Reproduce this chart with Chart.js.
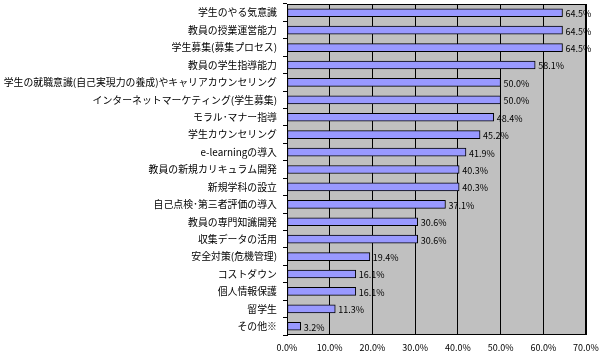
<!DOCTYPE html>
<html>
<head>
    <meta charset="utf-8">
    <title>chart</title>
    <script src="https://cdn.jsdelivr.net/npm/chart.js@4.4.1/dist/chart.umd.min.js"></script>
    <style>
        html, body { margin: 0; padding: 0; background: #fff; }
        #c { display: block; }
    </style>
</head>
<body>
<canvas id="c" width="604" height="361"></canvas>

<script>
    // データ
    let categories = [
        '学生のやる気意識', '教員の授業運営能力', '学生募集(募集プロセス)', '教員の学生指導能力',
        '学生の就職意識(自己実現力の養成)やキャリアカウンセリング', 'インターネットマーケティング(学生募集)',
        'モラル･マナー指導', '学生カウンセリング', 'e-learningの導入', '教員の新規カリキュラム開発',
        '新規学科の設立', '自己点検･第三者評価の導入', '教員の専門知識開発', '収集データの活用',
        '安全対策(危機管理)', 'コストダウン', '個人情報保護', '留学生', 'その他※'
    ];
    let values = [64.5, 64.5, 64.5, 58.1, 50.0, 50.0, 48.4, 45.2, 41.9, 40.3,
        40.3, 37.1, 30.6, 30.6, 19.4, 16.1, 16.1, 11.3, 3.2];
    let xTicks = [0, 10, 20, 30, 40, 50, 60, 70];

    let font = "'Noto Sans CJK JP', sans-serif";

    // 灰色の背景と枠
    let plotBg = {
        id: 'plotBg',
        beforeDraw: function (chart) {
            let a = chart.chartArea, ctx = chart.ctx;
            ctx.save();
            ctx.fillStyle = '#c0c0c0';
            ctx.fillRect(a.left, a.top, a.right - a.left, a.bottom - a.top);
            ctx.restore();
        },
        afterDraw: function (chart) {
            let a = chart.chartArea, ctx = chart.ctx;
            ctx.save();
            ctx.strokeStyle = '#000';
            ctx.lineWidth = 1;
            ctx.strokeRect(a.left + 0.5, a.top + 0.5, a.right - a.left - 1, a.bottom - a.top - 1);
            ctx.restore();
        }
    };

    // 値ラベル
    let valueLabels = {
        id: 'valueLabels',
        afterDatasetsDraw: function (chart) {
            let ctx = chart.ctx;
            let meta = chart.getDatasetMeta(0);
            ctx.save();
            ctx.fillStyle = '#000';
            ctx.font = '9px ' + font;
            ctx.textBaseline = 'middle';
            ctx.textAlign = 'left';
            meta.data.forEach(function (bar, i) {
                ctx.fillText(values[i].toFixed(1) + '%', bar.x + 3, bar.y + 1);
            });
            ctx.restore();
        }
    };

    new Chart(document.getElementById('c'), {
        type: 'bar',
        data: {
            labels: categories,
            datasets: [{
                data: values,
                backgroundColor: '#9999ff',
                borderColor: '#000',
                borderWidth: 1,
                borderSkipped: false,
                barThickness: 8
            }]
        },
        options: {
            indexAxis: 'y',
            responsive: false,
            animation: false,
            layout: {padding: {top: 4, right: 18, left: 0, bottom: 0}},
            plugins: {legend: {display: false}, tooltip: {enabled: false}},
            scales: {
                x: {
                    min: 0, max: 70,
                    afterBuildTicks: function (s) {
                        s.ticks = xTicks.map(function (v) { return {value: v}; });
                    },
                    afterFit: function (s) { s.height = 26; s.paddingLeft = 0; s.paddingRight = 0; },
                    grid: {color: '#000', lineWidth: 1, drawTicks: false},
                    border: {display: false},
                    ticks: {
                        color: '#000',
                        padding: 7,
                        font: {family: font, size: 9},
                        maxRotation: 0,
                        callback: function (v) { return Number(v).toFixed(1) + '%'; }
                    }
                },
                y: {
                    afterFit: function (s) { s.width = 287; s.paddingTop = 0; s.paddingBottom = 0; },
                    grid: {display: true, drawOnChartArea: false, color: '#000', tickLength: 4, offset: true},
                    border: {display: true, color: '#000'},
                    ticks: {
                        color: '#000',
                        padding: 6,
                        autoSkip: false,
                        font: {family: font, size: 9.9}
                    }
                }
            }
        },
        plugins: [plotBg, valueLabels]
    });
</script>
</body>
</html>
